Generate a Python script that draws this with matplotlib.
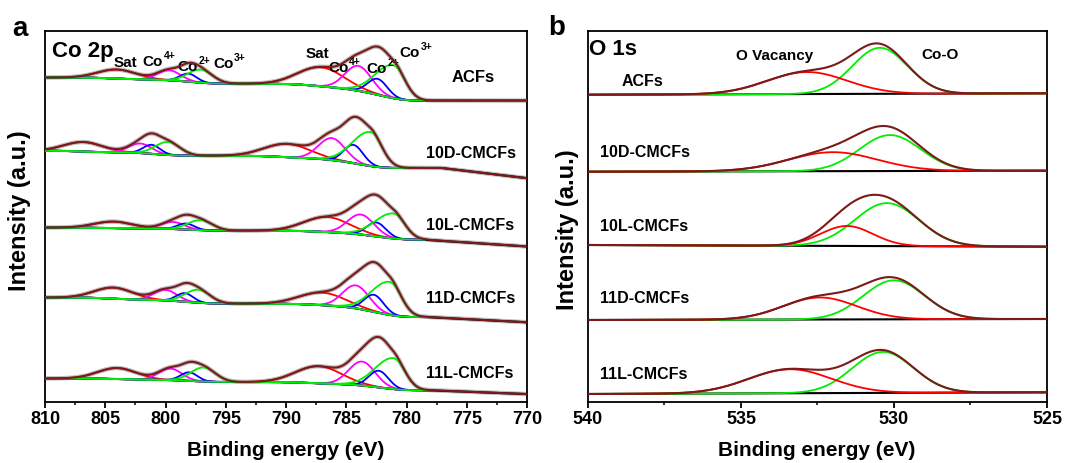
import numpy as np
import matplotlib
matplotlib.use('Agg')
import matplotlib.pyplot as plt
from matplotlib.ticker import MultipleLocator

plt.rcParams['font.family'] = ['Liberation Sans', 'DejaVu Sans']
plt.rcParams['font.weight'] = 'bold'

# DATA
samples = ['ACFs', '10D-CMCFs', '10L-CMCFs', '11D-CMCFs', '11L-CMCFs']

# Co 2p fitted components: Sat, Co4+, Co2+, Co3+ (2p1/2) then Sat, Co4+, Co2+, Co3+ (2p3/2)
co_colors = ['#ff0000', '#ff00ff', '#0000ff', '#00ee00'] * 2
co_sigma_hi = [1.6, 0.95, 0.7, 1.05, 1.9, 1.1, 0.8, 1.5]   # high-BE side
co_sigma_lo = [1.6, 0.95, 0.7, 1.0, 1.9, 1.1, 0.8, 0.95]   # low-BE side
co_pos_acfs = [804.0, 799.7, 798.1, 797.1, 787.1, 784.0, 782.4, 781.1]
co_amp_acfs = [9, 10, 8, 13, 19, 25, 16, 33]
co_pos_10d = [806.8, 802.1, 801.15, 799.8, 789.9, 786.2, 784.4, 783.0]
co_amp_10d = [9.5, 9.5, 9, 13, 13.3, 22, 18.3, 34]
co_pos_10l = [804.3, 799.4, 798.3, 797.1, 786.6, 783.8, 782.5, 781.1]
co_amp_10l = [6.5, 7, 6, 10, 15, 20, 14, 25]
co_pos_11d = [804.3, 800.0, 798.4, 797.3, 787.0, 784.2, 782.7, 781.4]
co_amp_11d = [11, 10.6, 8.5, 13, 12.5, 23, 17, 33]
co_pos_11l = [804.0, 799.6, 798.05, 796.85, 787.3, 783.7, 782.3, 781.1]
co_amp_11l = [11, 11.5, 8.5, 14, 17, 24, 16.7, 31]
co_pos = [co_pos_acfs, co_pos_10d, co_pos_10l, co_pos_11d, co_pos_11l]
co_amp = [co_amp_acfs, co_amp_10d, co_amp_10l, co_amp_11d, co_amp_11l]
# background (Shirley) levels: high-BE end, fit end, low-BE end of scan
co_bg_left = [324.5, 251.3, 174.4, 104.5, 23.6]
co_bg_end = [301.4, 234.0, 162.3, 84.9, 11.7]
co_bg_right = [301.4, 223.8, 155.5, 79.7, 7.9]
co_fit_end = [770.0, 777.0, 778.5, 778.2, 778.0]

# O 1s fitted components
o_vac_pos = [532.84, 532.0, 531.54, 532.42, 533.4]
o_vac_amp = [22, 19, 20, 22, 24]
o_vac_sigma = [1.3, 1.45, 0.85, 1.2, 1.35]
o_coo_pos = [530.46, 530.13, 530.23, 530.0, 530.36]
o_coo_amp = [46, 36, 43, 39, 41]
o_coo_sigma = [0.9, 1.0, 1.05, 1.0, 1.0]
o_bg_left = [307.3, 230.3, 157.0, 82.0, 8.0]
o_bg_right = [308.7, 231.3, 155.3, 83.0, 9.7]

ENV = '#7a1a1a'


def agauss(E, c, a, s_hi, s_lo):
    s = np.where(E >= c, s_hi, s_lo)
    return a * np.exp(-(E - c) ** 2 / (2 * s ** 2))


def shirley(E, total, left, end, right, e_end):
    dE = E[1] - E[0]
    fit = E >= e_end
    cum = np.cumsum(np.where(fit, total, 0.0)) * dE
    bg = end + (left - end) * cum / cum[-1]
    low = ~fit
    if low.any():
        bg[low] = end + (right - end) * (e_end - E[low]) / (e_end - E[0])
    return bg


fig = plt.figure(figsize=(10.88, 4.64), dpi=100)
axa = fig.add_axes([0.0414, 0.1315, 0.443, 0.8006])
axb = fig.add_axes([0.5404, 0.1315, 0.4219, 0.8006])
renderer = fig.canvas.get_renderer()


def sup_label(ax, x, y, base, sup, fs=11):
    # base text plus a small raised superscript right after it
    t = ax.text(x, y, base, fontsize=fs, fontweight='bold', ha='left', va='baseline')
    w = t.get_window_extent(renderer).width * 72 / fig.dpi
    ax.annotate(sup, xy=(x, y), xytext=(w + 0.3, fs * 0.45), textcoords='offset points',
                fontsize=fs * 0.68, fontweight='bold', ha='left', va='baseline')


# PANEL A: Co 2p
E = np.linspace(770, 810, 1601)
for i in range(len(samples)):
    peaks = [agauss(E, c, a, sh, sl)
             for c, a, sh, sl in zip(co_pos[i], co_amp[i], co_sigma_hi, co_sigma_lo)]
    total = np.sum(peaks, axis=0)
    bg = shirley(E, total, co_bg_left[i], co_bg_end[i], co_bg_right[i], co_fit_end[i])
    env = bg + total
    axa.plot(E, env, color='#bdbdbd', lw=3.2, zorder=1)
    axa.plot(E, bg, color='black', lw=1.5, zorder=2)
    m = E >= co_fit_end[i]
    for order in [0, 4, 1, 5, 2, 6, 3, 7]:
        axa.plot(E[m], (bg + peaks[order])[m], color=co_colors[order], lw=1.3, zorder=3)
    axa.plot(E, env, color=ENV, lw=1.5, zorder=4)

axa.set_xlim(810, 770)
axa.set_ylim(0, 371.5)
axa.xaxis.set_major_locator(MultipleLocator(5))
axa.xaxis.set_minor_locator(MultipleLocator(2.5))

axa.text(809.4, 346.1, 'Co 2p', fontsize=16, fontweight='bold', ha='left', va='baseline')
axa.text(804.28, 336.4, 'Sat', fontsize=11, fontweight='bold', ha='left', va='baseline')
axa.text(788.4, 345.1, 'Sat', fontsize=11, fontweight='bold', ha='left', va='baseline')
co_labels = [
    (801.9, 337.5, '4+'),
    (799.0, 332.3, '2+'),
    (796.05, 335.1, '3+'),
    (786.5, 331.3, '4+'),
    (783.3, 329.9, '2+'),
    (780.56, 346.1, '3+'),
]
for x, y, s in co_labels:
    sup_label(axa, x, y, 'Co', s)
axa.text(776.24, 321.3, 'ACFs', fontsize=12, fontweight='bold', ha='left', va='baseline')
for s, y in zip(samples[1:], [245.4, 173.3, 100.2, 25.1]):
    axa.text(778.4, y, s, fontsize=11.5, fontweight='bold', ha='left', va='baseline')

# PANEL B: O 1s
Eo = np.linspace(525, 540, 1201)
for i in range(len(samples)):
    bg = o_bg_right[i] + (o_bg_left[i] - o_bg_right[i]) * (Eo - 525) / 15
    vac = agauss(Eo, o_vac_pos[i], o_vac_amp[i], o_vac_sigma[i], o_vac_sigma[i])
    coo = agauss(Eo, o_coo_pos[i], o_coo_amp[i], o_coo_sigma[i], o_coo_sigma[i])
    axb.plot(Eo, bg, color='black', lw=1.5, zorder=2)
    axb.plot(Eo, bg + coo, color='#00ee00', lw=1.3, zorder=3)
    axb.plot(Eo, bg + vac, color='#ff0000', lw=1.3, zorder=3)
    axb.plot(Eo, bg + vac + coo, color=ENV, lw=1.5, zorder=4)

axb.set_xlim(540, 525)
axb.set_ylim(0, 371.5)
axb.xaxis.set_major_locator(MultipleLocator(5))
axb.xaxis.set_minor_locator(MultipleLocator(2.5))

axb.text(539.95, 348, 'O 1s', fontsize=16, fontweight='bold', ha='left', va='baseline')
axb.text(535.15, 343, 'O Vacancy', fontsize=11, fontweight='bold', ha='left', va='baseline')
axb.text(529.09, 343.7, 'Co-O', fontsize=11, fontweight='bold', ha='left', va='baseline')
axb.text(538.91, 317, 'ACFs', fontsize=11.5, fontweight='bold', ha='left', va='baseline')
for s, y in zip(samples[1:], [245.7, 172, 100.3, 23.7]):
    axb.text(539.62, y, s, fontsize=11.5, fontweight='bold', ha='left', va='baseline')

for ax in (axa, axb):
    ax.set_yticks([])
    for sp in ax.spines.values():
        sp.set_linewidth(1.3)
    ax.tick_params(axis='x', which='major', direction='out', length=4, width=1.3,
                   labelsize=13, pad=2)
    ax.tick_params(axis='x', which='minor', direction='out', length=2.5, width=1.1)
    for lab in ax.get_xticklabels():
        lab.set_fontweight('bold')

fig.text(0.263, 0.017, 'Binding energy (eV)', fontsize=15, fontweight='bold', ha='center', va='baseline')
fig.text(0.751, 0.017, 'Binding energy (eV)', fontsize=15, fontweight='bold', ha='center', va='baseline')
fig.text(0.018, 0.545, 'Intensity (a.u.)', fontsize=17, fontweight='bold', rotation=90, ha='center', va='center')
fig.text(0.522, 0.505, 'Intensity (a.u.)', fontsize=17, fontweight='bold', rotation=90, ha='center', va='center')
fig.text(0.011, 0.922, 'a', fontsize=20, fontweight='bold', ha='left', va='baseline')
fig.text(0.5037, 0.925, 'b', fontsize=20, fontweight='bold', ha='left', va='baseline')

fig.savefig('out.png', dpi=100)
